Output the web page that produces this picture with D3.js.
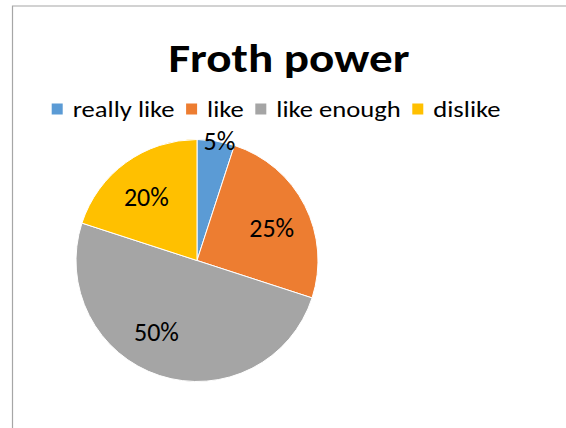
<!DOCTYPE html>
<html><head><meta charset="utf-8">
<script src="https://cdn.jsdelivr.net/npm/d3@7"></script>
<style>html,body{margin:0;padding:0;background:#fff;} svg{display:block}</style>
</head><body>
<svg id="chart" width="566" height="428"></svg>
<script>
const chartTitle = "Froth power";
const categories = ["really like", "like", "like enough", "dislike"];
const values = [5, 25, 50, 20];
const colors = ["#5B9BD5", "#ED7D31", "#A5A5A5", "#FFC000"];

const FONT = "Carlito, Calibri, Lato, sans-serif";
const svg = d3.select("#chart");

// chart border (left and top edges visible)
svg.append("path")
  .attr("d", "M12.5,428 L12.5,6 L566,6")
  .attr("fill", "none").attr("stroke", "#A6A6A6").attr("stroke-width", 1.2);

// title
svg.append("text")
  .attr("x", 168.5).attr("y", 71.5)
  .attr("font-family", FONT).attr("font-weight", "bold").attr("font-size", 40)
  .attr("textLength", 241).attr("lengthAdjust", "spacingAndGlyphs")
  .attr("fill", "#000").text(chartTitle);

// legend
const legendLeft = 51.7, legendRight = 500.5, sq = 11, gapIn = 10, gapOut = 11.5;
const lg = svg.append("g");
const texts = categories.map(c => lg.append("text")
  .attr("font-family", FONT).attr("font-size", 23).attr("y", 116.5).attr("fill", "#000").text(c));
const natural = texts.map(t => t.node().getComputedTextLength());
const fixed = categories.length * (sq + gapIn) + (categories.length - 1) * gapOut;
const k = (legendRight - legendLeft - fixed) / d3.sum(natural);
let x = legendLeft;
categories.forEach((c, i) => {
  lg.append("rect").attr("x", x).attr("y", 103.5).attr("width", sq).attr("height", sq).attr("fill", colors[i]);
  x += sq + gapIn;
  const w = natural[i] * k;
  texts[i].attr("x", x).attr("textLength", w).attr("lengthAdjust", "spacingAndGlyphs");
  x += w + gapOut;
});

// pie
const cx = 197, cy = 260.5, r = 121;
const total = d3.sum(values);
const pie = d3.pie().sort(null).value(d => d)(values);
const arc = d3.arc().innerRadius(0).outerRadius(r);
const g = svg.append("g").attr("transform", `translate(${cx},${cy})`);
g.selectAll("path").data(pie).join("path")
  .attr("d", arc).attr("fill", (d, i) => colors[i])
  .attr("stroke", "#fff").attr("stroke-width", 1);

// data labels (Excel best-fit: small slices pushed to the edge)
const inner = d3.arc().innerRadius(r * 0.67).outerRadius(r * 0.67);
const edge = d3.arc().innerRadius(r).outerRadius(r);
const nudge = { "really like": [3.5, 0], "like": [2.5, 4.3], "like enough": [-15.5, -6], "dislike": [-3, 1.5] };
const fmt = d3.format(".0%");
g.selectAll("text.lbl").data(pie).join("text")
  .attr("class", "lbl")
  .each(function (d, i) {
    const c = (d.value / total < 0.1 ? edge : inner).centroid(d);
    const n = nudge[categories[i]] || [0, 0];
    d3.select(this).attr("x", c[0] + n[0]).attr("y", c[1] + n[1] + 9.3);
  })
  .attr("text-anchor", "middle")
  .attr("font-family", FONT).attr("font-size", 26).attr("fill", "#000")
  .text(d => fmt(d.value / total));
</script>
</body></html>
